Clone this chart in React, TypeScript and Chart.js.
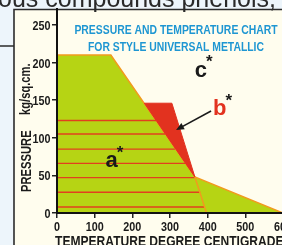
import React, { useEffect, useRef } from 'react';
import { Chart, registerables } from 'chart.js';

Chart.register(...registerables);

// ---- data ----
const xTickValues = [0, 100, 200, 300, 400, 500, 600];
const yTickValues = [0, 50, 100, 150, 200, 250];
const boundaryTemps = [0, 143, 366, 600];
const boundaryPressures = [210, 210, 48, 0];
const zoneBTemps = [232, 305, 366, 232];
const zoneBPressures = [146, 146, 48, 146];
const dividerTemps = [366, 397];
const dividerPressures = [48, 0];
const stripePressures = [8, 27.5, 47, 66, 85, 105, 123];
const stripeEndTemps = [392, 380, 366, 340, 313, 287, 263];
const zoneLabels = ['a', 'b', 'c'];
const zoneLabelTemps = [129, 414, 366];
const zoneLabelPressures = [61, 130, 181];
const zoneLabelColors = ['#1a1a1a', '#E2321F', '#1a1a1a'];
const arrowTemps = [409, 316];
const arrowPressures = [135.6, 110.4];
const titleLines = ['PRESSURE AND TEMPERATURE CHART', 'FOR STYLE UNIVERSAL METALLIC'];
const xAxisTitle = 'TEMPERATURE DEGREE CENTIGRADE';
const yAxisTitle = 'PRESSURE';
const yAxisUnit = 'kg/sq.cm.';
const topText = 'ous compounds phenols,';

const GREEN = '#B6D414';
const ORANGE = '#F29A1E';
const RED = '#E2321F';
const STRIPE = '#E2401E';
const BLUE = '#1E96D2';
const SANS = "'Liberation Sans', Arial, sans-serif";
const NARROW_X = 0.8;

const pts = (xs: number[], ys: number[]) => xs.map((x, i) => ({ x, y: ys[i] }));

function narrowText(ctx: any, text: string, x: number, y: number, font: string, align: string, baseline: string, color: string, rot = 0) {
  ctx.save();
  ctx.translate(x, y);
  if (rot) ctx.rotate(rot);
  ctx.scale(NARROW_X, 1);
  ctx.font = font;
  ctx.textAlign = align;
  ctx.textBaseline = baseline;
  ctx.fillStyle = color;
  ctx.fillText(text, 0, 0);
  ctx.restore();
}

const decorPlugin = {
  id: 'decor',
  beforeDraw(chart: any) {
    const ctx = chart.ctx;
    const { width, height } = chart;
    ctx.save();
    ctx.fillStyle = '#EDF5FB';
    ctx.fillRect(0, 0, width, height);
    ctx.fillStyle = '#FFFDEE';
    ctx.fillRect(14, 9, width - 14, height - 9);
    ctx.fillStyle = '#2a2a2a';
    ctx.font = `25px ${SANS}`;
    ctx.textAlign = 'left';
    ctx.textBaseline = 'alphabetic';
    ctx.fillText(topText, -2, 7);
    ctx.strokeStyle = '#2b2b2b';
    ctx.lineWidth = 1.6;
    ctx.beginPath();
    ctx.moveTo(14, height);
    ctx.lineTo(14, 9.5);
    ctx.lineTo(width, 9.5);
    ctx.moveTo(0, 46);
    ctx.lineTo(14, 46);
    ctx.stroke();
    ctx.restore();
  },
  afterDraw(chart: any) {
    const ctx = chart.ctx;
    const xs = chart.scales.x;
    const ys = chart.scales.y;
    ctx.save();
    const tickFont = `bold 13.5px ${SANS}`;
    xTickValues.forEach((v) => {
      narrowText(ctx, String(v), xs.getPixelForValue(v), 230.5, tickFont, 'center', 'alphabetic', '#1a1a1a');
    });
    yTickValues.forEach((v) => {
      narrowText(ctx, String(v), 50.5, ys.getPixelForValue(v) + 5, tickFont, 'right', 'alphabetic', '#1a1a1a');
    });
    // title
    const titleFont = `bold 13px ${SANS}`;
    narrowText(ctx, titleLines[0], 176, 33.5, titleFont, 'center', 'alphabetic', BLUE);
    narrowText(ctx, titleLines[1], 176, 51, titleFont, 'center', 'alphabetic', BLUE);
    // zone labels
    zoneLabels.forEach((t, i) => {
      const px = xs.getPixelForValue(zoneLabelTemps[i]);
      const py = ys.getPixelForValue(zoneLabelPressures[i]);
      ctx.font = `bold 22px ${SANS}`;
      ctx.textAlign = 'left';
      ctx.textBaseline = 'alphabetic';
      ctx.fillStyle = zoneLabelColors[i];
      ctx.fillText(t, px, py);
      const w = ctx.measureText(t).width;
      ctx.fillStyle = '#1a1a1a';
      ctx.font = `bold 17px ${SANS}`;
      ctx.fillText('*', px + w - 1, py - 9.5);
    });
    // arrow
    const x1 = xs.getPixelForValue(arrowTemps[0]);
    const y1 = ys.getPixelForValue(arrowPressures[0]);
    const x2 = xs.getPixelForValue(arrowTemps[1]);
    const y2 = ys.getPixelForValue(arrowPressures[1]);
    const ang = Math.atan2(y2 - y1, x2 - x1);
    ctx.strokeStyle = '#1a1a1a';
    ctx.fillStyle = '#1a1a1a';
    ctx.lineWidth = 1.6;
    ctx.beginPath();
    ctx.moveTo(x1, y1);
    ctx.lineTo(x2 - 5 * Math.cos(ang), y2 - 5 * Math.sin(ang));
    ctx.stroke();
    ctx.beginPath();
    ctx.moveTo(x2, y2);
    ctx.lineTo(x2 - 8 * Math.cos(ang) + 3.5 * Math.sin(ang), y2 - 8 * Math.sin(ang) - 3.5 * Math.cos(ang));
    ctx.lineTo(x2 - 8 * Math.cos(ang) - 3.5 * Math.sin(ang), y2 - 8 * Math.sin(ang) + 3.5 * Math.cos(ang));
    ctx.closePath();
    ctx.fill();
    // axis titles
    narrowText(ctx, xAxisTitle, 55, 246, `bold 15.1px ${SANS}`, 'left', 'alphabetic', '#1a1a1a');
    narrowText(ctx, yAxisTitle, 31, 192, `bold 14px ${SANS}`, 'left', 'alphabetic', '#1a1a1a', -Math.PI / 2);
    narrowText(ctx, yAxisUnit, 30, 115, `bold 14px ${SANS}`, 'left', 'alphabetic', '#1a1a1a', -Math.PI / 2);
    ctx.restore();
  },
};

export default function App() {
  const ref = useRef<HTMLCanvasElement | null>(null);
  useEffect(() => {
    if (!ref.current) return;
    const datasets: any[] = [
      {
        data: pts(boundaryTemps, boundaryPressures),
        fill: 'origin',
        backgroundColor: GREEN,
        borderColor: ORANGE,
        borderWidth: 1.5,
        pointRadius: 0,
        order: 10,
        tension: 0,
      },
      ...stripePressures.map((p, i) => ({
        data: pts([0, stripeEndTemps[i]], [p, p]),
        fill: false,
        borderColor: STRIPE,
        borderWidth: 1.4,
        pointRadius: 0,
        order: 6,
      })),
      {
        data: pts(zoneBTemps, zoneBPressures),
        fill: 'shape',
        backgroundColor: RED,
        borderColor: RED,
        borderWidth: 1,
        pointRadius: 0,
        order: 4,
      },
      {
        data: pts(dividerTemps, dividerPressures),
        fill: false,
        borderColor: ORANGE,
        borderWidth: 1.5,
        pointRadius: 0,
        order: 2,
      },
    ];
    const hiddenTicks = { color: 'rgba(0,0,0,0)', font: { size: 12 }, padding: 1, maxRotation: 0, autoSkip: false };
    const chart = new Chart(ref.current, {
      type: 'line',
      data: { datasets },
      plugins: [decorPlugin],
      options: {
        animation: false,
        responsive: true,
        maintainAspectRatio: false,
        devicePixelRatio: 1,
        layout: { padding: { left: 0, top: 9, right: 17, bottom: 0 } },
        plugins: { legend: { display: false }, tooltip: { enabled: false }, title: { display: false } },
        scales: {
          x: {
            type: 'linear',
            min: xTickValues[0],
            max: xTickValues[xTickValues.length - 1],
            afterBuildTicks: (s: any) => { s.ticks = xTickValues.map((v) => ({ value: v })); },
            afterFit: (s: any) => { s.height = 32; },
            ticks: hiddenTicks,
            grid: { drawOnChartArea: false, drawTicks: true, tickLength: 5, color: '#222', lineWidth: 1.5 },
            border: { display: true, color: '#111', width: 2, z: 1 },
          },
          y: {
            type: 'linear',
            min: 0,
            max: 271.3,
            afterBuildTicks: (s: any) => { s.ticks = yTickValues.map((v) => ({ value: v })); },
            afterFit: (s: any) => { s.width = 57; },
            ticks: hiddenTicks,
            grid: { drawOnChartArea: false, drawTicks: true, tickLength: 5, color: '#222', lineWidth: 1.5 },
            border: { display: true, color: '#111', width: 2, z: 1 },
          },
        },
      },
    } as any);
    return () => chart.destroy();
  }, []);
  return (
    <div style={{ position: 'fixed', left: 0, top: 0, width: 282, height: 245, overflow: 'hidden' }}>
      <div style={{ position: 'relative', width: 300, height: 245 }}>
        <canvas ref={ref} />
      </div>
    </div>
  );
}
